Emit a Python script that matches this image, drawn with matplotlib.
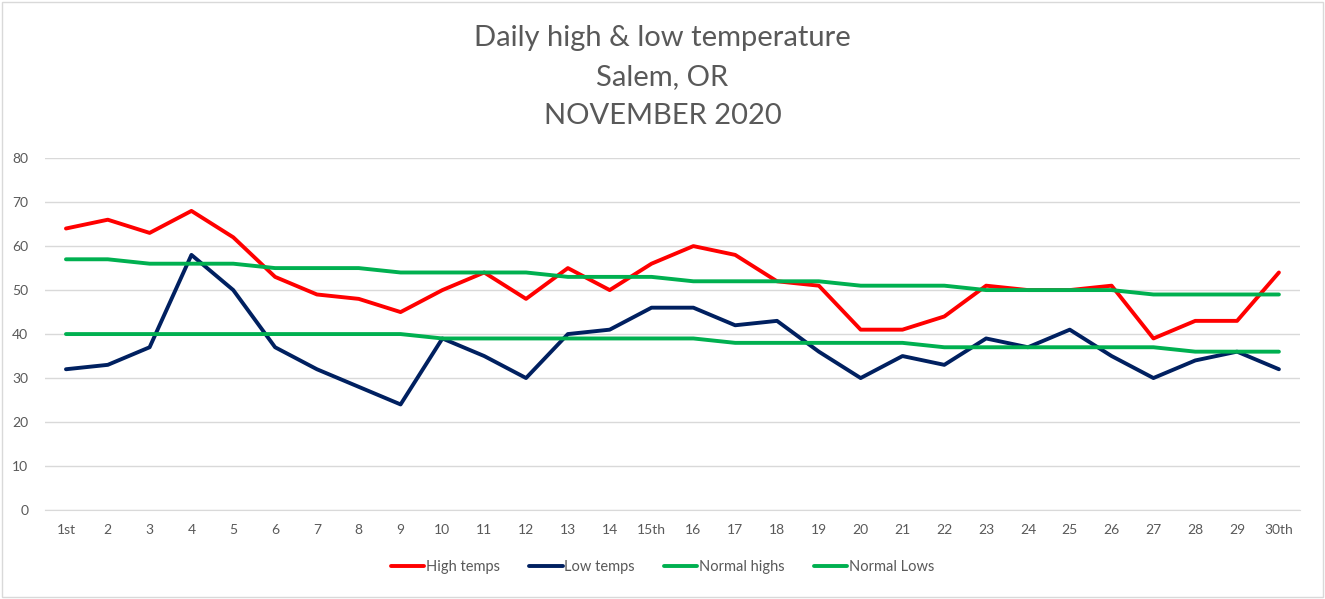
import numpy as np
import matplotlib.pyplot as plt
from matplotlib.patches import Rectangle

plt.rcParams['font.family'] = ['Lato', 'DejaVu Sans']

# 每日数据 (Salem, OR, 2020年11月)
days = ['1st'] + [str(d) for d in range(2, 15)] + ['15th'] + [str(d) for d in range(16, 30)] + ['30th']
high_temps = [64, 66, 63, 68, 62, 53, 49, 48, 45, 50, 54, 48, 55, 50, 56,
              60, 58, 52, 51, 41, 41, 44, 51, 50, 50, 51, 39, 43, 43, 54]
low_temps = [32, 33, 37, 58, 50, 37, 32, 28, 24, 39, 35, 30, 40, 41, 46,
             46, 42, 43, 36, 30, 35, 33, 39, 37, 41, 35, 30, 34, 36, 32]
normal_highs = [57, 57, 56, 56, 56, 55, 55, 55, 54, 54, 54, 54, 53, 53, 53,
                52, 52, 52, 52, 51, 51, 51, 50, 50, 50, 50, 49, 49, 49, 49]
normal_lows = [40, 40, 40, 40, 40, 40, 40, 40, 40, 39, 39, 39, 39, 39, 39,
               39, 38, 38, 38, 38, 38, 37, 37, 37, 37, 37, 37, 36, 36, 36]

text_color = '#595959'
grid_color = '#D9D9D9'

fig = plt.figure(figsize=(13.25, 5.99), dpi=100)
ax = fig.add_axes([0.034, 0.1486, 0.947, 0.5874])

x = np.arange(len(days))
ax.plot(x, high_temps, color='#FF0000', lw=2.8, label='High temps', solid_capstyle='round')
ax.plot(x, low_temps, color='#002060', lw=2.8, label='Low temps', solid_capstyle='round')
ax.plot(x, normal_highs, color='#00B050', lw=2.8, label='Normal highs', solid_capstyle='round')
ax.plot(x, normal_lows, color='#00B050', lw=2.8, label='Normal Lows', solid_capstyle='round')

ax.set_xlim(-0.5, len(days) - 0.5)
ax.set_ylim(0, 80)
ax.set_yticks(range(0, 81, 10))
ax.set_xticks(x)
ax.set_xticklabels(days)
ax.grid(axis='y', color=grid_color, lw=1)
ax.set_axisbelow(True)
for s in ['top', 'left', 'right']:
    ax.spines[s].set_visible(False)
ax.spines['bottom'].set_color(grid_color)
ax.tick_params(length=0, colors=text_color, labelsize=10)
ax.tick_params(axis='y', pad=12)
ax.tick_params(axis='x', pad=10)

fig.text(0.5, 1 - 77 / 599, 'Daily high & low temperature\nSalem, OR\nNOVEMBER 2020',
         ha='center', va='center', fontsize=21, color=text_color, linespacing=1.6)

fig.legend(loc='center', bbox_to_anchor=(0.5, 0.053), ncol=4, frameon=False,
           fontsize=10.5, handlelength=2.3, handletextpad=0.1, columnspacing=2.0,
           labelcolor=text_color)

fig.patches.append(Rectangle((0.0015, 0.003), 0.997, 0.994, transform=fig.transFigure,
                             fill=False, edgecolor=grid_color, lw=1))

plt.savefig('out.png', dpi=100)
